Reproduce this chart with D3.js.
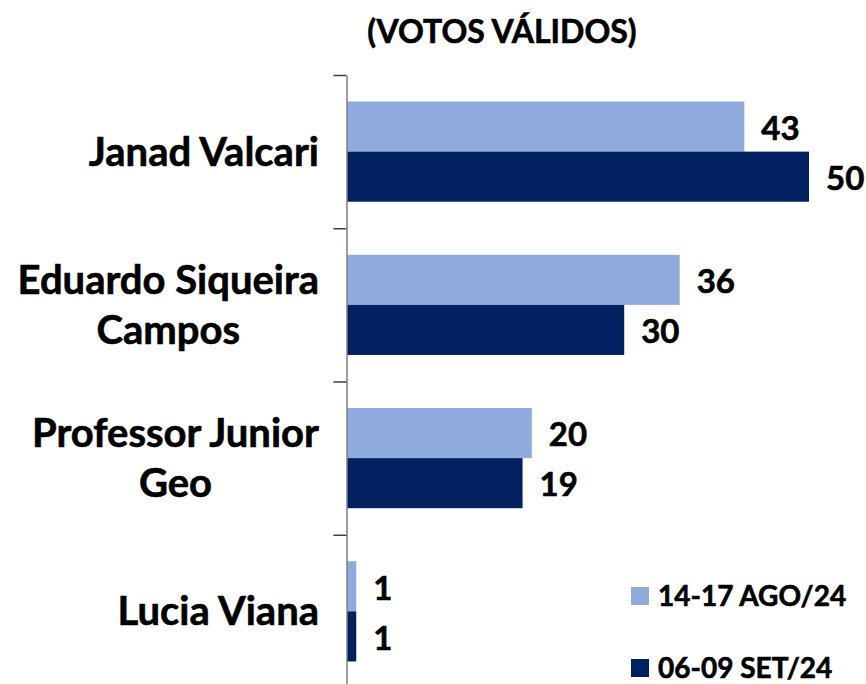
<!DOCTYPE html>
<html>
<head>
<meta charset="utf-8">
<script src="https://cdn.jsdelivr.net/npm/d3@7"></script>
<style>
  body { margin: 0; background: #fff; }
  svg text { font-family: Lato, "Open Sans", sans-serif; font-weight: bold; fill: #000; stroke: #000; stroke-width: 0.6px; }
</style>
</head>
<body>
<script>
// candidates, top to bottom (lines split for the wrapped names)
var candidates = [
    ["Janad Valcari"],
    ["Eduardo Siqueira", "Campos"],
    ["Professor Junior", "Geo"],
    ["Lucia Viana"]
];
var seriesNames = ["14-17 AGO/24", "06-09 SET/24"];
var colors = ["#8FAADC", "#002060"];
var ago = [43, 36, 20, 1];
var set = [50, 30, 19, 1];
var title = "(VOTOS VÁLIDOS)";

var width = 866, height = 684;

var svg = d3.select("body").append("svg")
    .attr("width", width).attr("height", height);

var keys = candidates.map(c => c.join(" "));
var values = [ago, set];

var x = d3.scaleLinear().domain([0, 50]).range([347, 809]);
var y = d3.scaleBand().domain(keys).range([75, 688]).paddingInner(0).paddingOuter(0);
var ySub = d3.scaleBand().domain([0, 1]).range([0, y.bandwidth()]).paddingInner(0).paddingOuter(0.53);

// title
svg.append("text")
    .attr("x", 502).attr("y", 43)
    .attr("text-anchor", "middle")
    .style("font-size", "32px")
    .text(title);

// bars
var groups = svg.selectAll("g.cand").data(keys).enter()
    .append("g").attr("class", "cand")
    .attr("transform", d => "translate(0," + y(d) + ")");

groups.selectAll("rect")
    .data((d, i) => values.map((v, s) => ({s: s, v: v[i]})))
    .enter().append("rect")
    .attr("x", x(0))
    .attr("y", d => ySub(d.s))
    .attr("width", d => x(d.v) - x(0))
    .attr("height", ySub.bandwidth())
    .attr("fill", d => colors[d.s]);

groups.selectAll("text.val")
    .data((d, i) => values.map((v, s) => ({s: s, v: v[i]})))
    .enter().append("text").attr("class", "val")
    .attr("x", d => x(d.v) + 17)
    .attr("y", d => ySub(d.s) + ySub.bandwidth() / 2)
    .attr("dy", "0.4em")
    .style("font-size", "33px")
    .text(d => d.v);

// category labels: block right aligned, lines centred in the block
var lineH = 50, labelRight = 319;
groups.append("text")
    .attr("text-anchor", "middle")
    .style("font-size", "40px")
    .each(function(d, i) {
        var lines = candidates[i];
        var t = d3.select(this);
        var first = y.bandwidth() / 2 + 14 - (lines.length - 1) * lineH / 2;
        var spans = lines.map((ln, k) =>
            t.append("tspan").attr("y", first + k * lineH).text(ln));
        var w = d3.max(spans, s => s.node().getComputedTextLength());
        spans.forEach(s => s.attr("x", labelRight - w / 2));
    });

// axis with ticks at category boundaries
var yb = d3.scaleLinear().domain([0, keys.length]).range([75, 688]);
var axis = svg.append("g")
    .attr("transform", "translate(346.5,0)")
    .call(d3.axisLeft(yb).tickValues(d3.range(keys.length + 1)).tickSize(13).tickSizeOuter(0).tickFormat(""));
axis.select(".domain").attr("stroke", "#7f7f7f").attr("stroke-width", 1.5);
axis.selectAll(".tick line").attr("stroke", "#404040").attr("stroke-width", 1.5);

// legend
var legend = svg.selectAll("g.leg").data(seriesNames).enter()
    .append("g").attr("class", "leg")
    .attr("transform", (d, i) => "translate(631," + (587 + i * 72) + ")");
legend.append("rect").attr("width", 18).attr("height", 18).attr("fill", (d, i) => colors[i]);
legend.append("text")
    .attr("x", 27).attr("y", 19)
    .style("font-size", "28px")
    .text(d => d);
</script>
</body>
</html>
